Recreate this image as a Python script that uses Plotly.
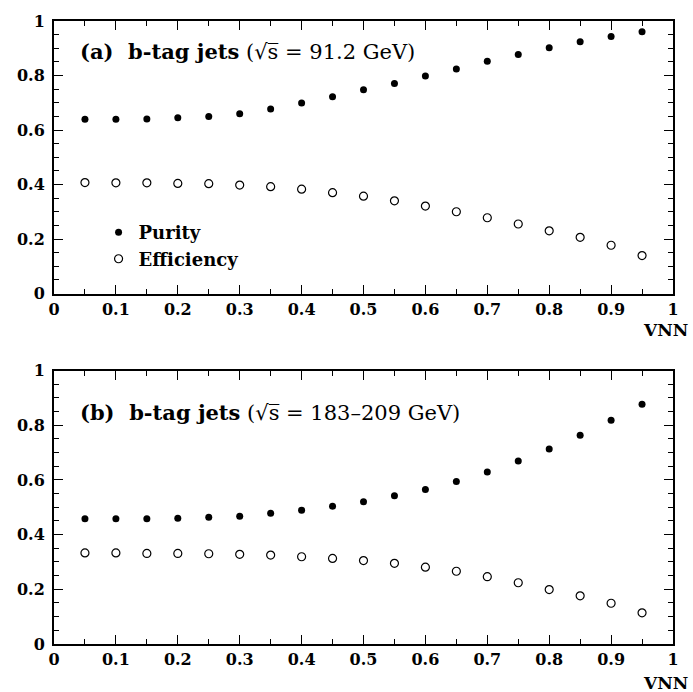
import plotly.graph_objects as go

vnn = [0.05, 0.10, 0.15, 0.20, 0.25, 0.30, 0.35, 0.40, 0.45, 0.50,
       0.55, 0.60, 0.65, 0.70, 0.75, 0.80, 0.85, 0.90, 0.95]

purity_a = [0.639, 0.639, 0.640, 0.645, 0.650, 0.660, 0.677, 0.699, 0.722, 0.748,
            0.771, 0.798, 0.824, 0.852, 0.877, 0.902, 0.924, 0.943, 0.961]
efficiency_a = [0.407, 0.406, 0.406, 0.404, 0.403, 0.398, 0.392, 0.383, 0.370, 0.357,
                0.340, 0.321, 0.300, 0.278, 0.255, 0.230, 0.206, 0.177, 0.139]

purity_b = [0.458, 0.458, 0.458, 0.460, 0.463, 0.467, 0.478, 0.489, 0.504, 0.520,
            0.542, 0.565, 0.594, 0.629, 0.669, 0.713, 0.763, 0.818, 0.877]
efficiency_b = [0.333, 0.333, 0.331, 0.331, 0.330, 0.328, 0.325, 0.319, 0.313, 0.305,
                0.295, 0.281, 0.266, 0.246, 0.224, 0.199, 0.176, 0.149, 0.114]

x_ticks = [0, 0.1, 0.2, 0.3, 0.4, 0.5, 0.6, 0.7, 0.8, 0.9, 1]
x_ticklabels = ["0", "0.1", "0.2", "0.3", "0.4", "0.5", "0.6", "0.7", "0.8", "0.9", "1"]
y_ticks = [0, 0.2, 0.4, 0.6, 0.8, 1]
y_ticklabels = ["0", "0.2", "0.4", "0.6", "0.8", "1"]

SERIF = "DejaVu Serif, serif"

fig = go.Figure()

filled = dict(symbol="circle", size=7, color="black", line=dict(width=0))
hollow = dict(symbol="circle-open", size=8, color="black", line=dict(width=1.2))

fig.add_trace(go.Scatter(x=vnn, y=purity_a, mode="markers", marker=filled,
                         name="Purity", xaxis="x", yaxis="y"))
fig.add_trace(go.Scatter(x=vnn, y=efficiency_a, mode="markers", marker=hollow,
                         name="Efficiency", xaxis="x", yaxis="y"))
fig.add_trace(go.Scatter(x=vnn, y=purity_b, mode="markers", marker=filled,
                         name="Purity", showlegend=False, xaxis="x2", yaxis="y2"))
fig.add_trace(go.Scatter(x=vnn, y=efficiency_b, mode="markers", marker=hollow,
                         name="Efficiency", showlegend=False, xaxis="x2", yaxis="y2"))

axis_common = dict(
    showline=True, linecolor="black", linewidth=2, mirror="ticks",
    ticks="inside", ticklen=9, tickwidth=1, tickcolor="black",
    showgrid=False, zeroline=False,
    tickfont=dict(family=SERIF, size=16, color="black", weight="bold"),
    minor=dict(ticks="inside", ticklen=5, tickwidth=1, tickcolor="black", dtick=0.05, showgrid=False),
)

xa = dict(axis_common, range=[0, 1], tickvals=x_ticks, ticktext=x_ticklabels)
ya = dict(axis_common, range=[0, 1], tickvals=y_ticks, ticktext=y_ticklabels, ticklabelstandoff=4)

fig.update_layout(
    width=693, height=692,
    margin=dict(l=54, r=20, t=13, b=48),
    paper_bgcolor="white", plot_bgcolor="white",
    xaxis=dict(xa, anchor="y", domain=[0, 1]),
    yaxis=dict(ya, anchor="x", domain=[0.5626, 1.0]),
    xaxis2=dict(xa, anchor="y2", domain=[0, 1]),
    yaxis2=dict(ya, anchor="x2", domain=[0.0, 0.439]),
    showlegend=True,
    legend=dict(x=0.072, y=0.690, xanchor="left", yanchor="top",
                bgcolor="rgba(0,0,0,0)", borderwidth=0, tracegroupgap=0,
                font=dict(family=SERIF, size=18, color="black", weight="bold"),
                itemwidth=30),
)

title_a = "<b>(a)  b-tag jets</b> <span style='font-size:21px'>(√s̅ = 91.2 GeV)</span>"
title_b = "<b>(b)  b-tag jets</b> <span style='font-size:21px'>(√s̅ = 183–209 GeV)</span>"

fig.add_annotation(text=title_a, xref="paper", yref="paper", x=0.038, y=0.951,
                   xanchor="left", yanchor="middle", showarrow=False,
                   font=dict(family=SERIF, size=21, color="black"))
fig.add_annotation(text=title_b, xref="paper", yref="paper", x=0.038, y=0.372,
                   xanchor="left", yanchor="middle", showarrow=False,
                   font=dict(family=SERIF, size=21, color="black"))
fig.add_annotation(text="<b>VNN</b>", xref="paper", yref="paper", x=1.028, y=0.504,
                   xanchor="right", yanchor="middle", showarrow=False,
                   font=dict(family=SERIF, size=17, color="black"))
fig.add_annotation(text="<b>VNN</b>", xref="paper", yref="paper", x=1.028, y=-0.062,
                   xanchor="right", yanchor="middle", showarrow=False,
                   font=dict(family=SERIF, size=17, color="black"))

fig.write_html("out.html")
